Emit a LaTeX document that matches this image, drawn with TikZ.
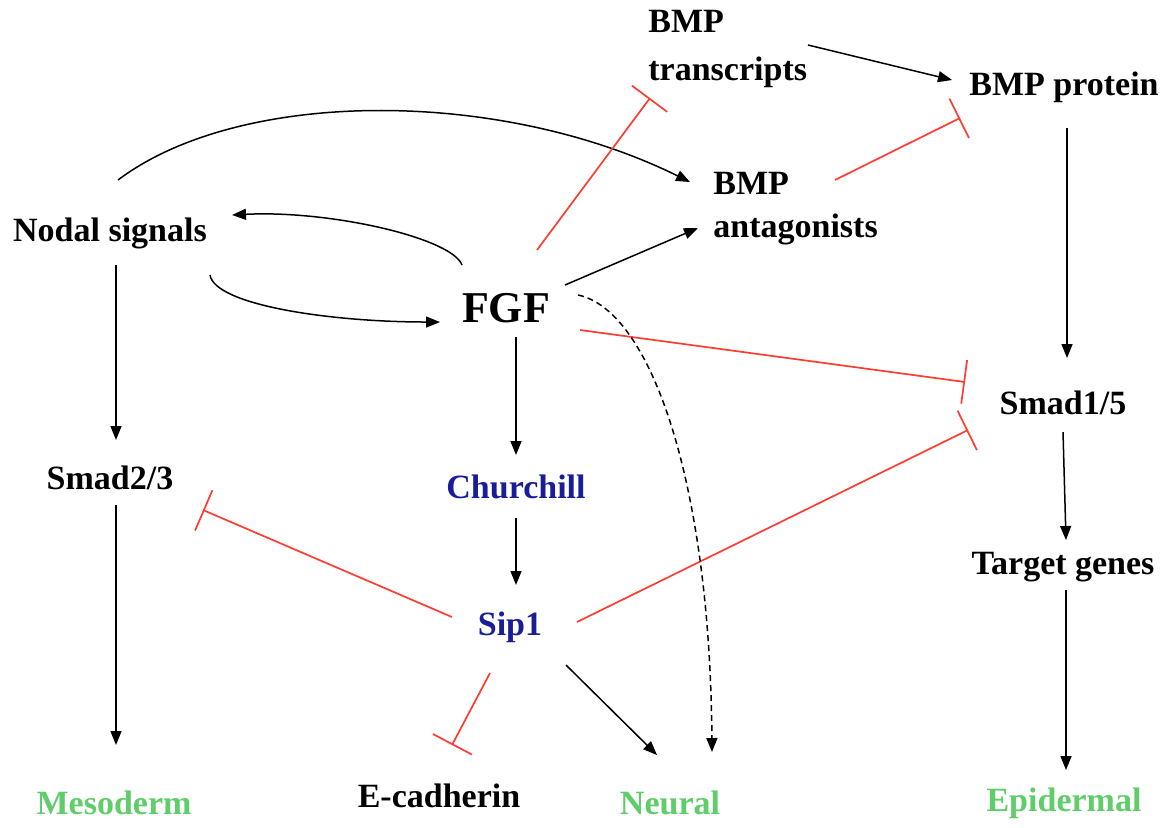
\documentclass[tikz,border=0pt]{standalone}
\usepackage{fontspec}
\setmainfont{Liberation Serif}
\usetikzlibrary{arrows.meta}
\definecolor{inh}{RGB}{255,60,50}
\definecolor{gblue}{RGB}{25,30,150}
\definecolor{ggreen}{RGB}{95,205,105}
\begin{document}
\begin{tikzpicture}[x=0.5pt,y=-0.5pt,
  lbl/.style={font=\bfseries\fontsize{17}{23}\selectfont, inner sep=0pt},
  act/.style={draw=black, line width=0.75pt, -{Triangle[length=7pt,width=5.5pt]}},
  inhib/.style={draw=inh, line width=0.85pt, -{Bar[width=22pt,line width=0.85pt]}},
]
\useasboundingbox (0,0) rectangle (1171,827);
% nodes
\node[lbl, align=left, anchor=west, font=\bfseries\fontsize{17}{24}\selectfont] (bmpt) at (648,49) {BMP\\transcripts};
\node[lbl] (bmpp) at (1064,87) {BMP protein};
\node[lbl, align=left, anchor=west, font=\bfseries\fontsize{17}{21.5}\selectfont] (anta) at (713,209) {BMP\\antagonists};
\node[lbl] (nodal) at (110,233) {Nodal signals};
\node[lbl, font=\bfseries\fontsize{22}{26}\selectfont] (fgf) at (506,308) {FGF};
\node[lbl] (smad15) at (1063,403) {Smad1/5};
\node[lbl] (smad23) at (110,478) {Smad2/3};
\node[lbl, text=gblue] (church) at (516,487) {Churchill};
\node[lbl] (target) at (1063,567) {Target genes};
\node[lbl, text=gblue] (sip1) at (510,627) {Sip1};
\node[lbl, text=ggreen] (meso) at (114,803) {Mesoderm};
\node[lbl] (ecad) at (439,796) {E-cadherin};
\node[lbl, text=ggreen] (neural) at (670,803) {Neural};
\node[lbl, text=ggreen] (epi) at (1064,803) {Epidermal};
% connectors
\draw[act] ([shift={(8,-53)}]nodal.center) .. controls (240,88) and (500,88) .. ([shift={(-23,-27)}]anta.west);
\draw[act] ([shift={(-44,-43)}]fgf.center) .. controls (452,238) and (330,210) .. ([shift={(122,-18)}]nodal.center);
\draw[act] ([shift={(100,42)}]nodal.center) .. controls (215,305) and (330,322) .. ([shift={(-66,14)}]fgf.center);
\draw[act] ([shift={(59,-23)}]fgf.center) -- ([shift={(-15,19)}]anta.west);
\draw[inhib] ([shift={(31,-58)}]fgf.center) -- ([shift={(2,49)}]bmpt.west);
\draw[act] ([shift={(160,-4)}]bmpt.west) -- ([shift={(-112,-7)}]bmpp.center);
\draw[inhib] ([shift={(122,-29)}]anta.west) -- ([shift={(-104,31)}]bmpp.center);
\draw[act] ([shift={(3,41)}]bmpp.center) -- ([shift={(4,-45)}]smad15.center);
\draw[inhib] ([shift={(74,22)}]fgf.center) -- ([shift={(-98,-21)}]smad15.center);
\draw[inhib] ([shift={(67,-5)}]sip1.center) -- ([shift={(-95,27)}]smad15.center);
\draw[act] ([shift={(0,29)}]smad15.center) -- ([shift={(3,-27)}]target.center);
\draw[act] ([shift={(3,23)}]target.center) -- ([shift={(2,-33)}]epi.center);
\draw[act] ([shift={(6,32)}]nodal.center) -- ([shift={(6,-38)}]smad23.center);
\draw[act] ([shift={(6,27)}]smad23.center) -- ([shift={(2,-58)}]meso.center);
\draw[inhib] ([shift={(-58,-10)}]sip1.center) -- ([shift={(93,32)}]smad23.center);
\draw[act] ([shift={(10,29)}]fgf.center) -- ([shift={(0,-32)}]church.center);
\draw[act] ([shift={(0,31)}]church.center) -- ([shift={(6,-42)}]sip1.center);
\draw[inhib] ([shift={(-20,46)}]sip1.center) -- ([shift={(13,-51)}]ecad.center);
\draw[act] ([shift={(56,38)}]sip1.center) -- ([shift={(-13,-48)}]neural.center);
\draw[act, dash pattern=on 3pt off 2pt] ([shift={(72,-13)}]fgf.center) .. controls (650,310) and (710,480) .. ([shift={(42,-51)}]neural.center);
\end{tikzpicture}
\end{document}
